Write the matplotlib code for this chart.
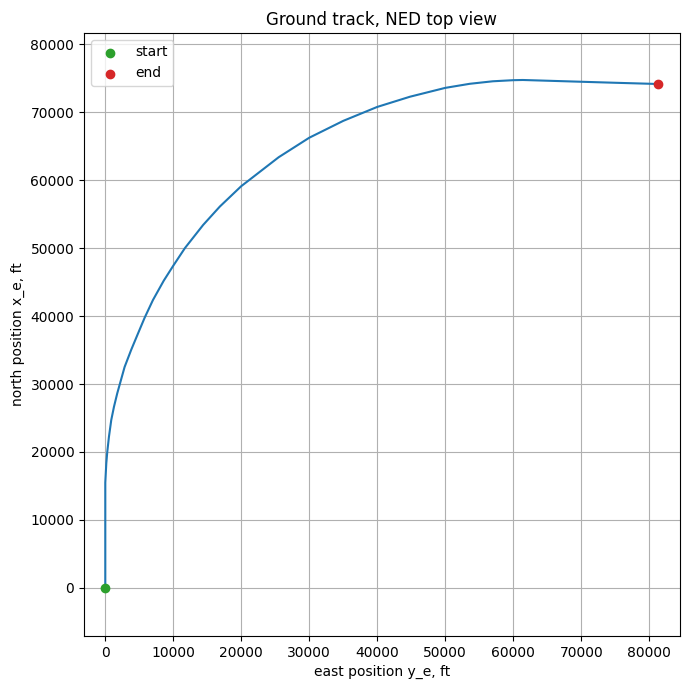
import matplotlib
matplotlib.use("Agg")
import matplotlib.pyplot as plt
from matplotlib.ticker import MultipleLocator

east = [0, 0, 0, 150, 290, 540, 880, 1280, 1760, 2840,
        3820, 4800, 5790, 7010, 8600, 10000, 11720, 14400, 16850, 20000,
        21170, 25500, 30000, 35000, 40000, 44810, 50000, 53600, 57000, 60000,
        61400, 70000, 75000, 81320]
north = [0, 10000, 15500, 18340, 20000, 22250, 24710, 26660, 28630, 32500,
         35050, 37400, 39750, 42350, 45200, 47400, 50000, 53400, 56100, 59100,
         60000, 63350, 66220, 68700, 70750, 72250, 73550, 74150, 74520, 74680,
         74710, 74450, 74300, 74120]

fig = plt.figure(figsize=(6.9, 6.9), dpi=100)
ax = fig.add_axes([84/690, 1-636/690, (680-84)/690, (636-33)/690])
ax.plot(east, north, color="tab:blue")
ax.scatter([east[0]], [north[0]], color="tab:green", label="start", zorder=3)
ax.scatter([east[-1]], [north[-1]], color="tab:red", label="end", zorder=3)
ax.set_xlim(-3130, 84520)
ax.set_ylim(-7060, 81620)
ax.xaxis.set_major_locator(MultipleLocator(10000))
ax.yaxis.set_major_locator(MultipleLocator(10000))
ax.grid(True)
ax.set_xlabel("east position y_e, ft")
ax.set_ylabel("north position x_e, ft")
ax.set_title("Ground track, NED top view")
ax.legend(loc="upper left")
fig.savefig("out.png", dpi=100)
